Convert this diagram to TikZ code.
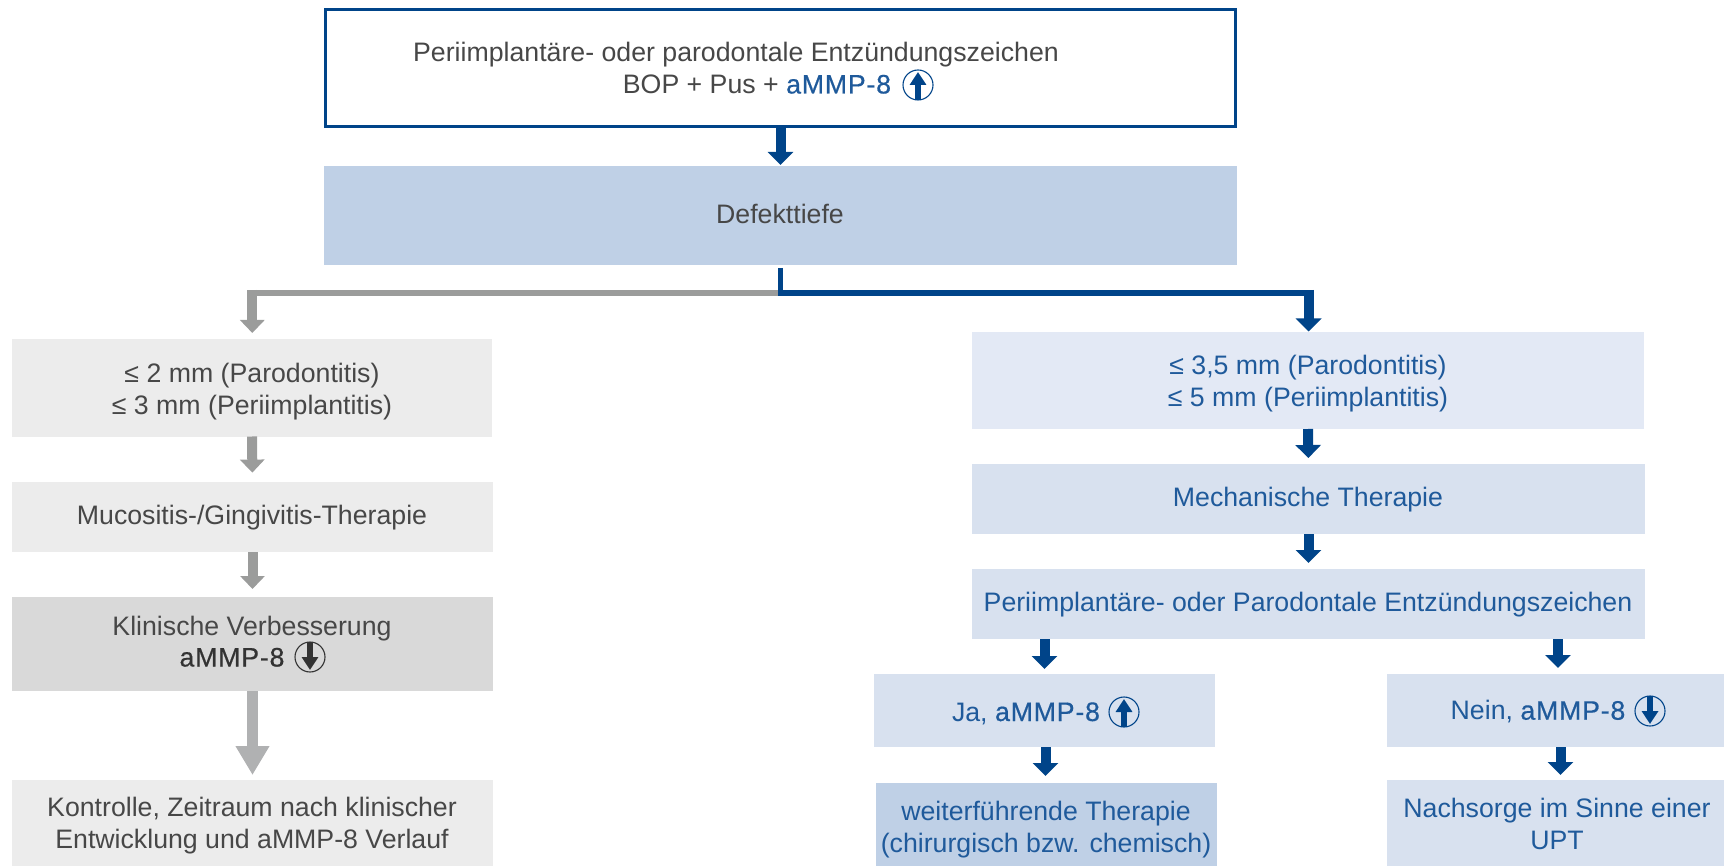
\documentclass[tikz,border=0pt]{standalone}
\usepackage{fontspec}
\setmainfont{Liberation Sans}
\newfontfamily\medfont[FakeBold=0.5,LetterSpace=3]{Liberation Sans}
\usetikzlibrary{arrows.meta}
\definecolor{navy}{HTML}{004489}
\definecolor{bluetext}{HTML}{1F5A9B}
\definecolor{greytext}{HTML}{474747}
\definecolor{darkgreytext}{HTML}{333333}
\definecolor{boxblue}{HTML}{BFD0E6}
\definecolor{boxpale}{HTML}{E3E9F5}
\definecolor{boxmid}{HTML}{D8E1EF}
\definecolor{boxgrey}{HTML}{ECECEC}
\definecolor{boxdark}{HTML}{D9D9D9}
\definecolor{arrgrey}{HTML}{9B9C9B}
\definecolor{arrlight}{HTML}{B0B1B2}
\tikzset{
  x=1pt,y=-1pt,
  boxnode/.style={draw=none,inner sep=0pt,outer sep=0pt},
  lab/.style={inner sep=0pt,outer sep=0pt,anchor=base,align=center,
    font=\fontsize{26.7}{31.8}\selectfont,text=greytext},
  labb/.style={lab,text=bluetext},
  navyarrow/.style={draw=navy,line width=10pt,-{Triangle[width=25pt,length=13pt]}},
  greyarrow/.style={draw=arrgrey,line width=10pt,-{Triangle[width=24pt,length=13pt]}},
  bigarrow/.style={draw=arrlight,line width=11.5pt,-{Triangle[width=32pt,length=29pt]}},
  branchnavy/.style={draw=navy,line width=5.5pt,miter limit=10},
  branchgrey/.style={draw=arrgrey,line width=5.5pt,miter limit=10},
  pics/iconup/.style={code={
    \draw[#1,line width=1.1pt,fill=none] (0,0) circle[radius=15];
    \draw[#1,line width=6pt,-{Triangle[width=16pt,length=13pt]}] (0,15) -- (0,-13);}},
  pics/icondown/.style={code={
    \draw[#1,line width=1.1pt,fill=none] (0,0) circle[radius=15];
    \draw[#1,line width=6pt,-{Triangle[width=16pt,length=13pt]}] (0,-15) -- (0,13);}},
}
\newcommand{\boxat}[6]{\node[boxnode,fill=#6,minimum width=#4-#2,minimum height=#5-#3,anchor=north west] (#1) at (#2,#3) {};}
\begin{document}
\begin{tikzpicture}
\useasboundingbox (0,0) rectangle (1724,866);
% boxes
\node[boxnode,draw=navy,line width=3pt,fill=white,minimum width=910pt,minimum height=117pt,anchor=north west] (top) at (325.5,10) {};
\boxat{def}{324}{166}{1237}{265}{boxblue}
\boxat{la}{12}{338.6}{492}{436.5}{boxgrey}
\boxat{lb}{12}{481.6}{493}{552}{boxgrey}
\boxat{lc}{12}{597}{493}{691}{boxdark}
\boxat{ld}{12}{780}{493}{866}{boxgrey}
\boxat{ra}{972}{332}{1644}{429}{boxpale}
\boxat{rb}{972}{464}{1645}{534}{boxmid}
\boxat{rc}{972}{569}{1645}{639}{boxmid}
\boxat{ja}{874}{674}{1215}{747}{boxmid}
\boxat{nein}{1387}{674}{1724}{747}{boxmid}
\boxat{weiter}{876}{783}{1217}{866}{boxblue}
\boxat{nach}{1387}{780}{1724}{866}{boxmid}
% connectors
\coordinate (stem) at (780.5,268);
\coordinate (split) at (780.5,293);
\coordinate (lcorner) at (247.3,293);
\coordinate (rcorner) at (1313.3,293);
\coordinate (ltop) at (252.3,290);
\coordinate (rtop) at (1308.6,290);
\draw[navyarrow,shorten >=1pt] (top.south) -- (def.north);
\draw[branchgrey] (split) -- (lcorner);
\draw[greyarrow,shorten >=5.6pt] (ltop) -- (ltop |- la.north);
\draw[branchnavy] (stem) -- (split) -- (rcorner);
\draw[navyarrow,shorten >=0.5pt] (rtop) -- (rtop |- ra.north);
\draw[greyarrow,shorten >=9pt] (la.south) -- (lb.north);
\draw[greyarrow,shorten >=8pt] (lb.south) -- (lc.north);
\draw[bigarrow,shorten >=5pt] (lc.south) -- (ld.north);
\draw[navyarrow,shorten >=6pt] (ra.south) -- (rb.north);
\draw[navyarrow,shorten >=6pt] (rb.south) -- (rc.north);
\draw[navyarrow,shorten >=5pt] (ja.north |- rc.south) -- (ja.north);
\draw[navyarrow,shorten >=6pt] ([xshift=2.5pt]nein.north |- rc.south) -- ([xshift=2.5pt]nein.north);
\draw[navyarrow,shorten >=7pt] ([xshift=1pt]ja.south) -- ([xshift=1pt]ja.south |- weiter.north);
\draw[navyarrow,shorten >=5pt] ([xshift=5pt]nein.south) -- ([xshift=5pt]nach.north);
% labels
\node[lab] (t1) at (736,62) {Periimplantäre- oder parodontale Entzündungszeichen};
\node[lab] (t2) at (757,93.5) {BOP + Pus + {\medfont\color{bluetext}aMMP-8}};
\node[lab] (t3) at (780,223.5) {Defekttiefe};
\node[lab] (t4) at (252,414.5) {≤ 2 mm (Parodontitis)\\≤ 3 mm (Periimplantitis)};
\node[lab] (t5) at (252,524.2) {Mucositis-/Gingivitis-Therapie};
\node[lab] (t6) at (252,635) {Klinische Verbesserung};
\node[lab,text=darkgreytext] (t7) at (232,666.5) {\medfont aMMP-8};
\node[lab] (t8) at (252,848.5) {Kontrolle, Zeitraum nach klinischer\\Entwicklung und aMMP-8 Verlauf};
\node[labb] (t9) at (1308,406.5) {≤ 3,5 mm (Parodontitis)\\≤ 5 mm (Periimplantitis)};
\node[labb] (t10) at (1308,506) {Mechanische Therapie};
\node[labb] (t11) at (1308,611) {Periimplantäre- oder Parodontale Entzündungszeichen};
\node[labb] (t12) at (1026,721) {Ja, {\medfont aMMP-8}};
\node[labb] (t13) at (1538,719.7) {Nein, {\medfont aMMP-8}};
\node[labb] (t14) at (1046,852.7) {weiterführende Therapie\\(chirurgisch bzw. chemisch)};
\node[labb] (t15) at (1557,849) {Nachsorge im Sinne einer\\UPT};
% icons
\pic at (918,85) {iconup=navy};
\pic at (310,657) {icondown=darkgreytext};
\pic at (1124,712) {iconup=navy};
\pic at (1650,711) {icondown=navy};
\end{tikzpicture}
\end{document}
